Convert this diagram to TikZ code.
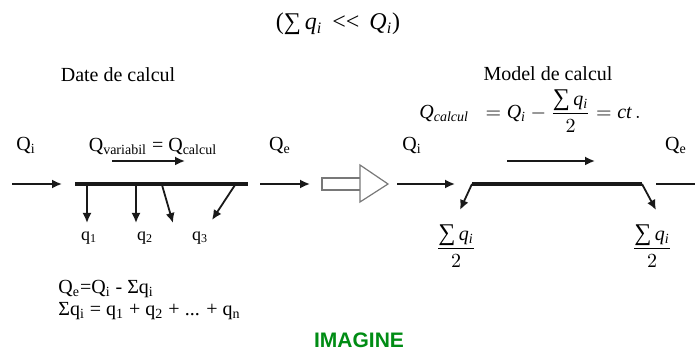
\documentclass[tikz,border=0pt]{standalone}
\usepackage{amsmath}
\usepackage{fontspec}
\setmainfont{Liberation Serif}
\newfontfamily\labelsans{Liberation Sans}
\usetikzlibrary{arrows.meta, positioning, calc}
\definecolor{pipegray}{RGB}{25, 25, 25}
\definecolor{hollowgray}{RGB}{120, 120, 120}
\definecolor{imaginegreen}{RGB}{0, 140, 20}

% sum sign and half of the sum, in Times-like glyphs
\newcommand{\qsum}{\mbox{\large ∑}}
\newcommand{\halfsum}{\dfrac{\qsum\,\mathit{q}_{\mathit{i}}}{2}}

\tikzset{
    flow/.style={-{Latex[length=5pt, width=4.5pt]}, line width=0.9pt, pipegray},
    pipe/.style={line width=2.4pt, pipegray},
    lbl/.style={inner sep=1pt, font=\normalsize}
}

\begin{document}
\begin{tikzpicture}[x=0.5pt, y=-0.5pt]
    % Frame
    \useasboundingbox (0,0) rectangle (695,351);

    % Title condition
    \node[lbl, font=\large] (cond) at (338,24) {(∑\,\textit{q}\textsubscript{\textit{i}} \,<{}<\, \textit{Q}\textsubscript{\textit{i}})};

    % Headings
    \node[lbl] (datehead) at (118,75) {Date de calcul};
    \node[lbl] (modelhead) at (548,74) {Model de calcul};
    \node[lbl, inner sep=0pt] (modelform) at (530,111) {$\mathit{Q}_{\mathit{calcul}} \;\;= \mathit{Q}_{\mathit{i}} - \halfsum = \mathit{ct}\,.$};

    % Left: real pipe
    \coordinate (inL) at (12,184);
    \coordinate (inLend) at (62,184);
    \coordinate (barL1) at (75,184);
    \coordinate (barL2) at (248,184);
    \coordinate (outL) at (260,184);
    \coordinate (outLend) at (310,184);
    \draw[flow] (inL) -- (inLend);
    \draw[pipe] (barL1) -- (barL2);
    \draw[flow] (outL) -- (outLend);
    \node[lbl] (qiL) at (26,146) {Q\textsubscript{i}};
    \node[lbl] (qeL) at (280,146) {Q\textsubscript{e}};

    \coordinate (varA) at (112,161);
    \coordinate (varB) at (185,161);
    \draw[flow] (varA) -- (varB);
    \node[lbl] (qvar) at (153,147) {Q\textsubscript{variabil} = Q\textsubscript{calcul}};

    % Lateral draws
    \coordinate (t1) at (87,185);
    \coordinate (t2) at (136,185);
    \coordinate (t3) at (162,185);
    \coordinate (t4) at (235,185);
    \node[lbl, font=\small] (q1) at (89,238) {q\textsubscript{1}};
    \node[lbl, font=\small] (q2) at (145,238) {q\textsubscript{2}};
    \node[lbl, font=\small] (q3) at (200,238) {q\textsubscript{3}};
    \coordinate (h1) at (87,223);
    \coordinate (h2) at (136,223);
    \coordinate (h3) at (173,223);
    \coordinate (h4) at (212,220);
    \draw[flow] (t1) -- (h1);
    \draw[flow] (t2) -- (h2);
    \draw[flow] (t3) -- (h3);
    \draw[flow] (t4) -- (h4);

    % Balance
    \node[lbl, anchor=west] (bal1) at (56,289) {Q\textsubscript{e}=Q\textsubscript{i} - Σq\textsubscript{i}};
    \node[lbl, anchor=west] (bal2) at (56,311) {Σq\textsubscript{i} = q\textsubscript{1} + q\textsubscript{2} + ... + q\textsubscript{n}};

    % Hollow arrow
    \draw[hollowgray, line width=0.6pt] (360,178) -- (322,178) -- (322,190) -- (360,190);
    \draw[hollowgray, line width=0.6pt] (360,165) -- (388,184) -- (360,202) -- cycle;

    % Right: calculation model
    \coordinate (inR) at (397,184);
    \coordinate (inRend) at (455,184);
    \coordinate (barR1) at (472,184);
    \coordinate (barR2) at (642,184);
    \coordinate (dropR1) at (460,210);
    \coordinate (dropR2) at (656,210);
    \coordinate (outR) at (656,184);
    \coordinate (outRend) at (695,184);
    \draw[flow] (inR) -- (inRend);
    \draw[pipe] (barR1) -- (barR2);
    \draw[flow] (barR1) -- (dropR1);
    \draw[flow] (barR2) -- (dropR2);
    \draw[line width=0.9pt, pipegray] (outR) -- (outRend);
    \node[lbl] (qiR) at (412,146) {Q\textsubscript{i}};
    \node[lbl] (qeR) at (676,146) {Q\textsubscript{e}};

    \coordinate (calcA) at (507,161);
    \coordinate (calcB) at (595,161);
    \draw[flow] (calcA) -- (calcB);

    \node[lbl] (halfL) at (456,246) {$\halfsum$};
    \node[lbl] (halfR) at (652,246) {$\halfsum$};

    % Caption
    \node[imaginegreen, font=\labelsans\bfseries\fontsize{10.5}{12}\selectfont] (caption) at (359,340) {IMAGINE};
\end{tikzpicture}
\end{document}
